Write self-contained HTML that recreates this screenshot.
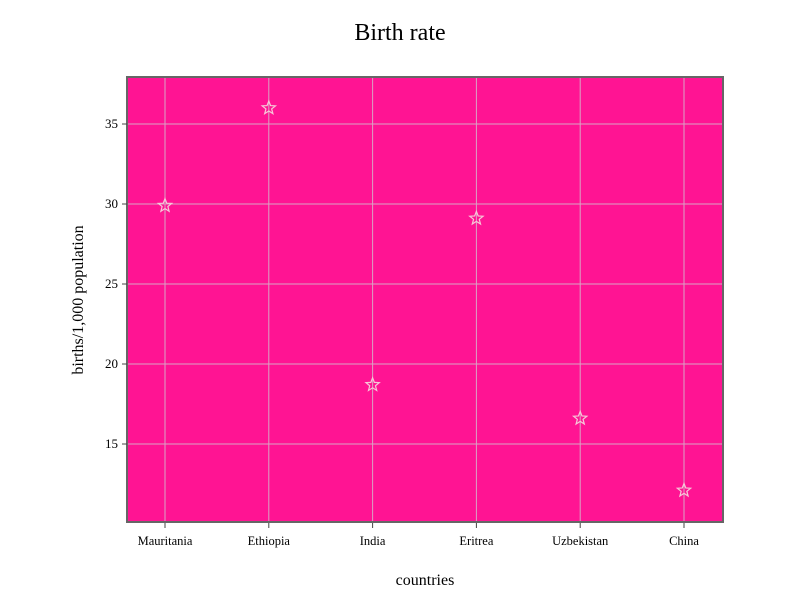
<!DOCTYPE html>
<html><head><meta charset="utf-8"><style>
body{margin:0;background:#fff;}
svg{display:block;font-family:"Liberation Serif",serif;}
</style></head><body>
<svg id="chart" width="800" height="600" xmlns="http://www.w3.org/2000/svg">
<text x="400" y="40" text-anchor="middle" font-size="24">Birth rate</text>
<rect x="127" y="77" width="596" height="445" fill="#ff1493"/>
<g id="grid"></g>
<g id="marks"></g>
<rect x="127" y="77" width="596" height="445" fill="none" stroke="#666" stroke-width="2"/>
<g id="axes"></g>
<text x="425" y="585" text-anchor="middle" font-size="16">countries</text>
<text transform="translate(83,300) rotate(-90)" text-anchor="middle" font-size="16">births/1,000 population</text>
</svg>
<script>
const categories=["Mauritania","Ethiopia","India","Eritrea","Uzbekistan","China"];
const birthRates=[29.9,36.0,18.7,29.1,16.6,12.1];
const yTicks=[15,20,25,30,35];
const NS="http://www.w3.org/2000/svg";
const x0=165,dx=103.8;
function xs(i){return x0+i*dx;}
function ys(v){return 524-(v-10)*16;}
function mk(t,a,p){const e=document.createElementNS(NS,t);for(const k in a)e.setAttribute(k,a[k]);p.appendChild(e);return e;}
const grid=document.getElementById('grid'),marks=document.getElementById('marks'),axes=document.getElementById('axes');
yTicks.forEach(v=>{
 const l=mk('line',{x1:128,x2:722,y1:ys(v),y2:ys(v),stroke:'#d9a3c4','stroke-width':1},grid);
 
 
 const t=mk('line',{x1:122,x2:127,y1:ys(v),y2:ys(v),stroke:'#444'},axes);
 
 
 const tx=mk('text',{x:118,y:ys(v)+4,'text-anchor':'end','font-size':13},axes);
 tx.textContent=v;
 
 
});
categories.forEach((c,i)=>{
 const l=mk('line',{x1:xs(i),x2:xs(i),y1:78,y2:521,stroke:'#d9a3c4','stroke-width':1},grid);
 
 
 const t=mk('line',{x1:xs(i),x2:xs(i),y1:523,y2:528,stroke:'#444'},axes);
 
 
 const tx=mk('text',{x:xs(i),y:545,'text-anchor':'middle','font-size':12.5},axes);
 tx.textContent=c;
 
 
 const cx=xs(i),cy=ys(birthRates[i]);let pts=[];
 for(let k=0;k<10;k++){const r=k%2?3:7,a=-Math.PI/2+k*Math.PI/5;pts.push((cx+r*Math.cos(a)).toFixed(2)+','+(cy+r*Math.sin(a)).toFixed(2));}
 const s=mk('polygon',{points:pts.join(' '),fill:'none',stroke:'#f6c8d8','stroke-width':1.2},marks);
 
 
});
</script>
</body></html>
